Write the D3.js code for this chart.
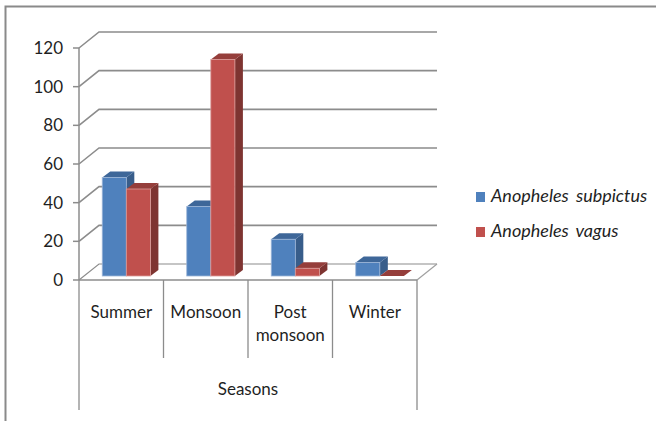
<!DOCTYPE html>
<html><head><meta charset="utf-8">
<script src="https://cdn.jsdelivr.net/npm/d3@7"></script>
<style>
html,body{margin:0;padding:0;background:#fff;}
svg{display:block;font-family:Lato, "Liberation Sans", sans-serif;}
</style></head>
<body>
<svg id="c" width="656" height="421"></svg>
<script>
const categories = [["Summer"], ["Monsoon"], ["Post", "monsoon"], ["Winter"]];
const seriesNames = ["Anopheles subpictus", "Anopheles vagus"];
const subpictus = [51, 36, 19, 7];
const vagus = [45, 112, 4, 0];
const yTicks = [0, 20, 40, 60, 80, 100, 120];
const axisTitle = "Seasons";

const colors = [
  {front:"#4F81BD", side:"#385D8A", top:"#3E6799", edge:"#9DB6D8"},
  {front:"#C0504D", side:"#7E3431", top:"#953E3B", edge:"#DB9C9A"}
];

const svg = d3.select("#c");
const catKeys = categories.map(c => c.join(" "));
const x = d3.scaleBand().domain(catKeys).range([79, 417]).padding(0);
const y = d3.scaleLinear().domain([0, 120]).range([280, 48]);
const DX = 20, DY = -16;      // wall depth
const BDX = 8, BDY = -6;      // bar depth
const grid = "#8C8C8C";
const txt = "#1f1f1f";

// outer frame
svg.append("rect").attr("x",5.5).attr("y",6.5).attr("width",700).attr("height",500)
  .attr("fill","none").attr("stroke","#8A8A8A").attr("stroke-width",2);

// gridlines on back wall + left wall diagonals
const g = svg.append("g");
yTicks.forEach(t => {
  const yy = y(t);
  g.append("path").attr("d", `M79,${yy}L${79+DX},${yy+DY}L${417+DX},${yy+DY}`)
    .attr("fill","none").attr("stroke", grid).attr("stroke-width", t===0?1.2:1.6);
  g.append("line").attr("x1",73).attr("x2",79).attr("y1",yy).attr("y2",yy)
    .attr("stroke",grid).attr("stroke-width",1.5);
  g.append("text").attr("x",63).attr("y",yy+6).attr("text-anchor","end")
    .attr("font-size",17).attr("fill",txt).text(t);
});
// floor right edge
g.append("line").attr("x1",417).attr("y1",y(0)).attr("x2",417+DX).attr("y2",y(0)+DY)
  .attr("stroke","#A0A0A0").attr("stroke-width",1.2);
// vertical axis
g.append("line").attr("x1",79).attr("x2",79).attr("y1",y(120)).attr("y2",y(0))
  .attr("stroke",grid).attr("stroke-width",1.5);

// bars
const series = [subpictus, vagus];
const barW = x.bandwidth() * 0.285;
const bars = svg.append("g");
catKeys.forEach((c, ci) => {
  series.forEach((vals, si) => {
    const col = colors[si];
    const x0 = x(c) + x.bandwidth()*0.275 + si*barW;
    const x1 = x0 + barW;
    const yb = y(0) - 4;
    const yt = y(vals[ci]) - 4;
    bars.append("path").attr("d", `M${x1},${yt}L${x1+BDX},${yt+BDY}L${x1+BDX},${yb+BDY}L${x1},${yb}Z`)
      .attr("fill", col.side);
    bars.append("path").attr("d", `M${x0},${yt}L${x0+BDX},${yt+BDY}L${x1+BDX},${yt+BDY}L${x1},${yt}Z`)
      .attr("fill", col.top);
    if (yb - yt > 0.5)
      bars.append("rect").attr("x",x0).attr("y",yt).attr("width",barW).attr("height",yb-yt)
        .attr("fill",col.front).attr("stroke",col.edge).attr("stroke-width",0.8);
  });
});

// category axis
const ax = svg.append("g");
ax.append("line").attr("x1",79).attr("x2",417).attr("y1",y(0)).attr("y2",y(0))
  .attr("stroke",grid).attr("stroke-width",1.5);
const divs = catKeys.map(c => x(c)).concat([x.range()[1]]);
divs.forEach((d, i) => {
  const outer = (i===0 || i===divs.length-1);
  ax.append("line").attr("x1",d).attr("x2",d).attr("y1",y(0)).attr("y2", outer?410:358)
    .attr("stroke",grid).attr("stroke-width",1.3);
});
categories.forEach((lines, ci) => {
  const t = ax.append("text").attr("text-anchor","middle").attr("font-size",17).attr("fill",txt);
  lines.forEach((ln, li) => {
    t.append("tspan").attr("x", x(catKeys[ci]) + x.bandwidth()/2).attr("y", 318 + li*23).text(ln);
  });
});
ax.append("text").attr("x",(79+417)/2).attr("y",395).attr("text-anchor","middle")
  .attr("font-size",17).attr("fill",txt).text(axisTitle);

// legend
const lg = svg.append("g");
seriesNames.forEach((n, i) => {
  const yy = 192 + i*35;
  lg.append("rect").attr("x",476).attr("y",yy).attr("width",9).attr("height",10)
    .attr("fill",colors[i].front);
  lg.append("text").attr("x",491).attr("y",yy+10).attr("font-size",18).attr("font-style","italic")
    .attr("word-spacing",3).attr("fill",txt).text(n);
});
</script>
</body></html>
